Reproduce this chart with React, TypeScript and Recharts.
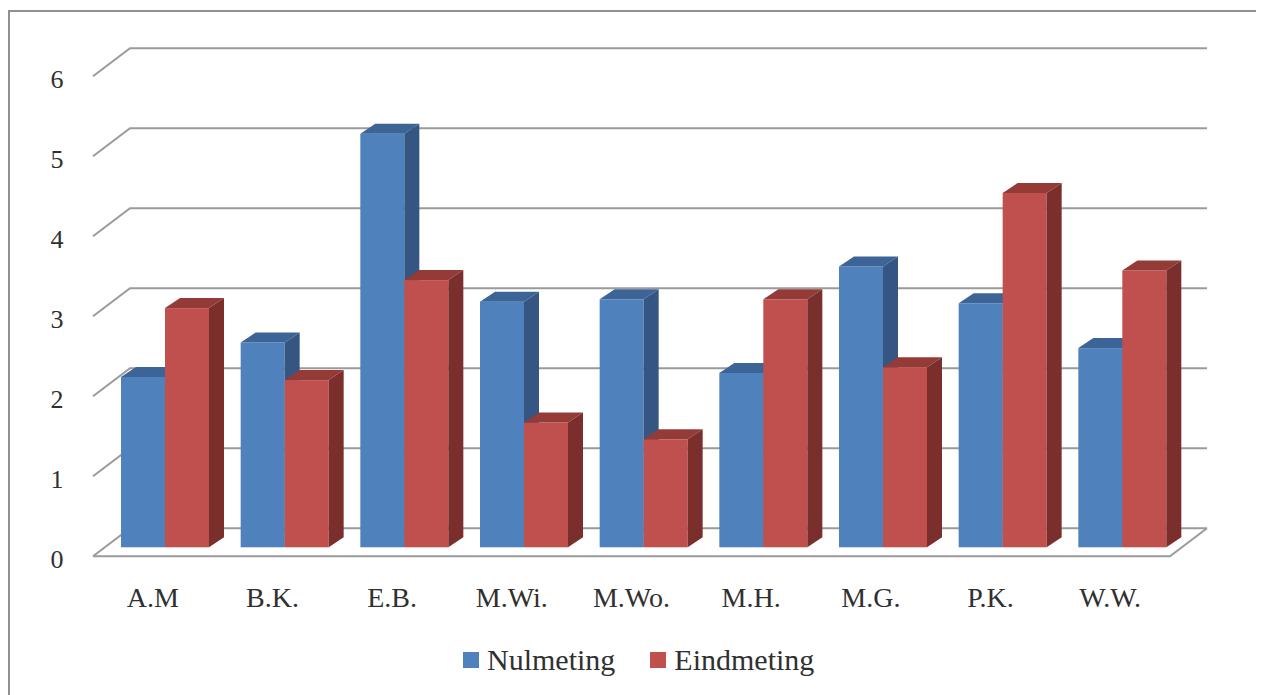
import { Bar, BarChart, CartesianGrid, Legend, XAxis, YAxis } from 'recharts'

const names = ['A.M', 'B.K.', 'E.B.', 'M.Wi.', 'M.Wo.', 'M.H.', 'M.G.', 'P.K.', 'W.W.']
const nulmeting = [2.13, 2.56, 5.17, 3.07, 3.1, 2.18, 3.51, 3.05, 2.49]
const eindmeting = [2.99, 2.09, 3.34, 1.56, 1.35, 3.1, 2.25, 4.43, 3.46]
const seriesNames = ['Nulmeting', 'Eindmeting']
const yTicks = [0, 1, 2, 3, 4, 5, 6]

const data = names.map((name, i) => ({
  name,
  Nulmeting: nulmeting[i],
  Eindmeting: eindmeting[i]
}))

const W = 1256
const H = 687
const margin = { top: 59.3, right: 82, bottom: 15, left: 0 }
const PLOT_BOTTOM = 539.3
const FONT = '"Liberation Serif", "DejaVu Serif", serif'

// front face, top face, side face
const BLUE = ['#4F81BD', '#3C6496', '#355682']
const RED = ['#C0504D', '#943B38', '#7B2F2D']

// oblique "3D" offsets: floor front edge, back wall, and the depth of each bar
const FRONT = { dx: -12, dy: 9 }
const BACK = { dx: 25, dy: -19 }
const BAR_DEPTH = { dx: 15, dy: -10 }
const GRID = '#9a9a9a'

const gridLine = (p: any) => {
  const { x1, x2, y1, key } = p
  const isFloor = Math.abs(y1 - PLOT_BOTTOM) < 0.5
  const pts = [
    `${x1 + FRONT.dx},${y1 + FRONT.dy}`,
    `${x1 + BACK.dx},${y1 + BACK.dy}`,
    `${x2 + BACK.dx},${y1 + BACK.dy}`
  ].join(' ')
  return (
    <g key={key}>
      <polyline points={pts} fill="none" stroke={GRID} strokeWidth={2} />
      {isFloor && (
        <polyline
          points={`${x1 + FRONT.dx},${y1 + FRONT.dy} ${x2 + FRONT.dx},${y1 + FRONT.dy} ${x2 + BACK.dx},${y1 + BACK.dy}`}
          fill="none"
          stroke={GRID}
          strokeWidth={2}
        />
      )}
    </g>
  )
}

const bar3d = (top: string, side: string) => (p: any) => {
  const { x, y, width, height, fill } = p
  const { dx, dy } = BAR_DEPTH
  return (
    <g>
      <rect x={x} y={y} width={width} height={height} fill={fill} />
      <polygon
        points={`${x},${y} ${x + dx},${y + dy} ${x + width + dx},${y + dy} ${x + width},${y}`}
        fill={top}
      />
      <polygon
        points={`${x + width},${y} ${x + width + dx},${y + dy} ${x + width + dx},${y + height + dy} ${x + width},${y + height}`}
        fill={side}
      />
    </g>
  )
}

const YTick = (p: any) => (
  <text x={49} y={p.y + 20.5} textAnchor="middle" fontSize={26} fontFamily={FONT} fill="#303030">
    {p.payload.value}
  </text>
)

const XTick = (p: any) => (
  <text x={p.x + FRONT.dx} y={p.y + 52} textAnchor="middle" fontSize={28} fontFamily={FONT} fill="#303030">
    {p.payload.value}
  </text>
)

// legend keeps series order (Nulmeting first)
const renderLegend = () => (
  <div style={{ display: 'flex', alignItems: 'center', height: 40, paddingLeft: 455 }}>
    {seriesNames.map((label, i) => (
      <div key={label} style={{ display: 'flex', alignItems: 'center', marginRight: i === 0 ? 35 : 0 }}>
        <span
          style={{
            width: 16,
            height: 16,
            background: i === 0 ? BLUE[0] : RED[0],
            marginRight: 8,
            display: 'inline-block'
          }}
        />
        <span style={{ fontFamily: FONT, fontSize: 30, color: '#303030', lineHeight: '40px' }}>{label}</span>
      </div>
    ))}
  </div>
)

export default function App() {
  return (
    <div style={{ position: 'relative', width: W, height: H }}>
      <div
        style={{
          position: 'absolute',
          left: 0,
          top: 1.5,
          width: W,
          height: 720,
          border: '2px solid #909090',
          boxSizing: 'border-box',
          pointerEvents: 'none'
        }}
      />
      <BarChart width={W} height={H} data={data} margin={margin} barCategoryGap={16} barGap={0}>
        <CartesianGrid vertical={false} horizontal={gridLine} syncWithTicks />
        <XAxis dataKey="name" axisLine={false} tickLine={false} height={92.7} tick={<XTick />} interval={0} />
        <YAxis
          domain={[0, 6]}
          ticks={yTicks}
          axisLine={false}
          tickLine={false}
          width={97}
          tick={<YTick />}
          interval={0}
        />
        <Legend
          verticalAlign="bottom"
          height={40}
          wrapperStyle={{ left: 0, width: W, fontFamily: FONT }}
          content={renderLegend}
        />
        <Bar
          dataKey={seriesNames[0]}
          fill={BLUE[0]}
          isAnimationActive={false}
          shape={bar3d(BLUE[1], BLUE[2])}
        />
        <Bar
          dataKey={seriesNames[1]}
          fill={RED[0]}
          isAnimationActive={false}
          shape={bar3d(RED[1], RED[2])}
        />
      </BarChart>
    </div>
  )
}
